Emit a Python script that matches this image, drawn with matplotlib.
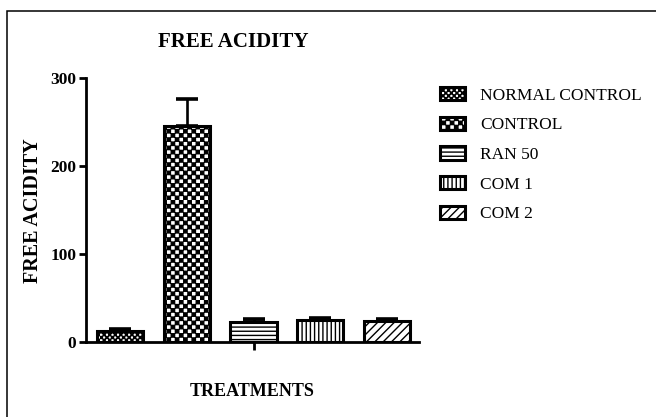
import warnings
import numpy as np
import matplotlib
matplotlib.use("Agg")
import matplotlib.pyplot as plt
import matplotlib.hatch as mhatch
from matplotlib.path import Path
from matplotlib.patches import Rectangle

warnings.filterwarnings("ignore")

# ---- data -------------------------------------------------------------
groups = ["NORMAL CONTROL", "CONTROL", "RAN 50", "COM 1", "COM 2"]
means = [12, 245, 23, 25, 24]
sem = [2.5, 31, 3, 2.5, 2]
yticks = [0, 100, 200, 300]
title = "FREE ACIDITY"
ylabel = "FREE ACIDITY"
xlabel = "TREATMENTS"


# ---- checkerboard hatch ('c') ------------------------------------------
class CheckerHatch(mhatch.HatchPatternBase):
    def __init__(self, hatch, density):
        self.n = int(hatch.count("c") * density)
        self.num_vertices = 2 * self.n * self.n * 5 if self.n else 0

    def set_vertices_and_codes(self, vertices, codes):
        n = self.n
        s = 1.0 / n
        h = s / 2
        ins = 0.004
        sq = []
        for i in range(n):
            for j in range(n):
                for ox, oy in ((0, 0), (h, h)):
                    x0 = i * s + ox + ins
                    y0 = j * s + oy + ins
                    x1 = x0 + h - 2 * ins
                    y1 = y0 + h - 2 * ins
                    sq.append([(x0, y0), (x1, y0), (x1, y1), (x0, y1), (x0, y0)])
        vertices[:] = np.array(sq).reshape(-1, 2)
        codes[:] = np.tile([Path.MOVETO, Path.LINETO, Path.LINETO,
                            Path.LINETO, Path.CLOSEPOLY], 2 * n * n)


mhatch._hatch_types.append(CheckerHatch)

plt.rcParams["font.family"] = ["Liberation Serif", "DejaVu Serif"]
plt.rcParams["hatch.linewidth"] = 1.0
plt.rcParams["hatch.color"] = "black"

hatches = ["ccc", "cc", "----", "||||", "////"]

fig = plt.figure(figsize=(6.56, 4.17), dpi=100)
ax = fig.add_axes([86 / 656, 1 - 342 / 417, (419 - 86) / 656, (342 - 78) / 417])

x = np.arange(len(groups))
bars = ax.bar(x, means, width=0.69, color="white", edgecolor="black",
              linewidth=2.2, zorder=2)
for b, h in zip(bars, hatches):
    b.set_hatch(h)
bars_list = list(bars)

ax.errorbar(x, means, yerr=[np.zeros(len(sem)), sem], fmt="none",
            ecolor="black", elinewidth=1.9, capsize=8.2, capthick=2.6,
            zorder=3)

ax.set_xlim(-0.51, 4.48)
ax.set_ylim(0, 300)
ax.set_yticks(yticks)
ax.set_yticklabels([str(v) for v in yticks], fontsize=12.5, fontweight="bold")
ax.set_xticks([2])
ax.set_xticklabels([""])
ax.tick_params(axis="y", direction="out", length=5, width=2, pad=2)
ax.tick_params(axis="x", direction="out", length=6, width=2)
for side in ("top", "right"):
    ax.spines[side].set_visible(False)
for side in ("left", "bottom"):
    ax.spines[side].set_linewidth(2)

fig.text(233 / 656, 1 - 42 / 417, title, ha="center", va="center",
         fontsize=15, fontweight="bold")
fig.text(33 / 656, 1 - 211 / 417, ylabel, ha="center", va="center",
         rotation=90, fontsize=14.5, fontweight="bold")
fig.text(252 / 656, 1 - 392 / 417, xlabel, ha="center", va="center",
         fontsize=13, fontweight="bold")

fig.legend(bars_list, groups, loc="upper left",
           bbox_to_anchor=(440 / 656, 1 - 87 / 417), frameon=False,
           fontsize=12.5, handlelength=1.45, handleheight=0.8,
           handletextpad=0.85, labelspacing=0.75, borderpad=0,
           borderaxespad=0)

# outer frame
fig.patches.append(Rectangle((7 / 656, -0.05), 1.2, 1 - 11 / 417 + 0.05,
                             transform=fig.transFigure, fill=False,
                             edgecolor="black", linewidth=1.1))

fig.savefig("out.png", dpi=100)
